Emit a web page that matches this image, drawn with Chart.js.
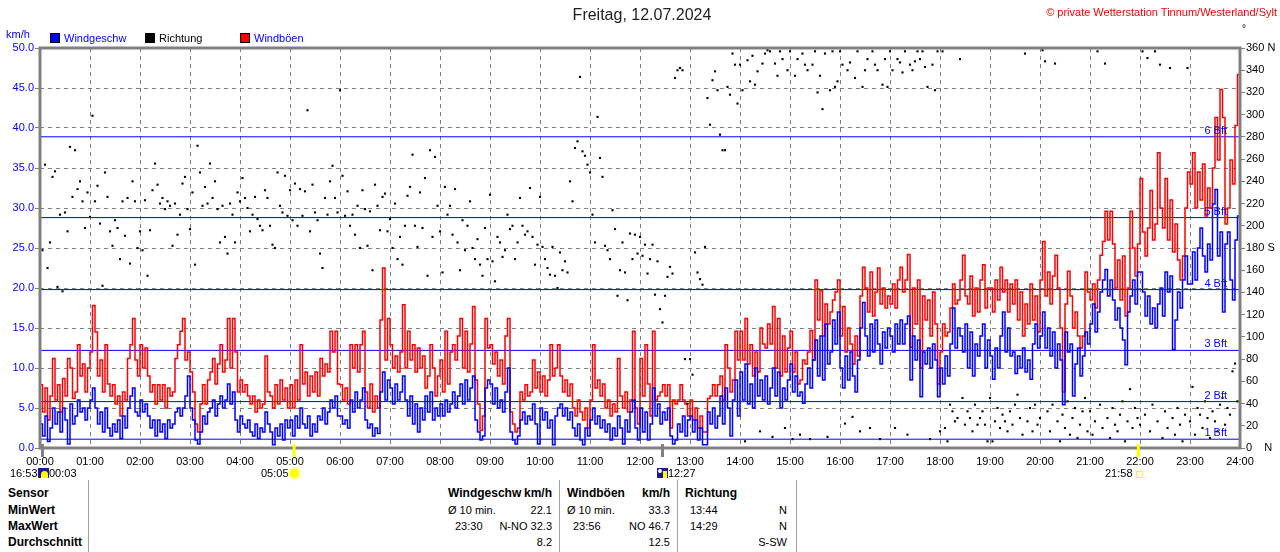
<!DOCTYPE html>
<html><head><meta charset="utf-8">
<script src="https://cdn.jsdelivr.net/npm/chart.js@4"></script>
<style>
body{margin:0;background:#fff;font-family:"Liberation Sans",Arial,sans-serif;}
#wrap{position:relative;width:1280px;height:552px;overflow:hidden;background:#fff;}
#c{position:absolute;left:0;top:0;}
.t{position:absolute;white-space:nowrap;font-size:11px;line-height:14px;color:#000;}
.vl{position:absolute;width:1px;background:#a0a0a0;top:480px;height:72px;}
</style></head><body>
<div id="wrap">
<canvas id="c" width="1280" height="470"></canvas>
</div>
<script>
const STEP = 3; // minutes between samples
// Windgeschwindigkeit km/h, 00:00 ... 23:57 (20 samples per hour) + 24:00
const speed = [
3.0,1.5,4.0,0.8,2.5,5.0,3.0,4.5,2.0,5.0,3.5,0.5,5.5,3.0,4.0,6.0,4.5,5.0,3.5,5.0,
6.0,7.5,5.0,3.0,4.5,2.0,5.0,2.5,1.5,3.0,2.0,3.5,1.2,4.0,2.5,5.0,6.5,7.5,4.5,4.0,
6.0,4.5,5.5,4.0,2.5,3.5,1.5,3.5,2.0,3.0,1.2,3.5,2.5,3.0,4.5,5.0,4.0,5.0,6.5,9.0,
5.0,3.5,1.0,0.5,2.0,4.0,3.0,4.5,5.0,6.0,4.0,5.5,6.5,5.0,6.0,8.0,5.5,7.0,3.5,2.0,
4.0,3.0,2.5,3.5,2.0,1.5,3.0,1.2,2.5,2.0,4.5,3.0,2.0,0.4,2.5,1.5,3.0,1.0,3.5,2.5,
3.5,1.5,4.0,2.5,5.0,3.0,2.5,4.0,1.5,3.0,2.0,4.0,3.5,5.0,3.0,4.5,6.0,5.0,6.5,4.0,
4.0,3.0,3.5,2.5,6.0,4.5,7.0,5.0,6.0,7.5,3.5,2.5,3.0,1.5,2.5,1.8,7.0,9.5,6.0,8.5,
7.5,5.5,8.0,6.0,7.0,9.0,6.0,4.0,6.5,3.0,5.5,2.0,5.0,3.5,6.5,4.5,7.0,3.5,5.0,4.0,
5.5,4.0,6.0,4.5,5.5,7.0,5.0,6.5,8.0,5.5,8.5,6.0,7.5,9.0,3.5,2.0,1.0,1.5,7.5,8.5,
8.0,5.5,7.5,5.0,6.0,4.5,7.0,10.0,2.0,1.0,0.5,1.5,3.5,4.5,3.0,4.0,3.5,5.5,3.0,0.5,
5.0,3.5,4.5,2.5,3.5,0.4,4.0,5.0,5.5,4.0,5.0,3.5,4.5,2.5,1.5,3.0,1.0,0.4,2.5,1.5,
3.5,5.0,3.0,4.0,2.5,3.5,2.0,3.0,1.0,2.5,1.5,4.0,2.5,0.5,3.5,2.0,4.5,6.0,2.5,1.0,
5.0,2.0,4.5,1.0,3.0,7.5,4.0,5.5,3.0,4.5,3.5,5.0,1.5,0.5,1.0,3.0,2.0,4.0,1.5,3.5,
4.0,2.0,3.5,1.0,2.5,0.4,0.4,4.5,3.0,5.0,2.5,4.0,6.5,3.0,7.5,5.0,1.5,6.0,8.5,4.0,
9.5,6.0,10.5,5.5,8.0,5.0,10.0,6.5,8.5,6.0,9.0,5.5,7.5,10.0,6.5,9.5,5.0,7.5,6.0,8.5,
10.5,7.0,9.0,6.5,7.0,5.6,8.0,10.0,7.5,11.0,13.5,9.0,14.0,8.5,15.5,10.5,12.0,16.0,13.0,17.0,
10.0,7.5,11.5,8.5,12.0,9.0,7.0,11.0,15.0,18.2,14.0,11.5,15.5,12.0,16.0,13.0,10.5,14.5,12.5,15.0,
14.0,12.0,15.5,13.0,16.0,13.0,15.5,16.5,8.5,14.0,11.0,13.5,6.4,12.0,10.5,12.5,10.0,13.0,11.0,6.4,
10.0,8.0,11.5,9.0,13.0,17.5,12.5,15.0,14.0,12.0,15.5,10.0,14.5,9.0,13.0,11.5,14.0,15.5,10.0,13.5,
11.5,8.6,12.5,10.0,14.0,17.0,12.0,15.0,11.5,12.0,9.3,11.5,10.0,12.5,9.5,11.0,8.6,13.0,15.5,12.5,
14.0,17.0,12.5,15.0,11.5,14.5,10.0,13.0,11.0,5.4,14.5,12.0,13.0,6.5,10.5,12.5,9.0,11.5,14.5,13.0,
15.5,18.0,14.5,17.0,19.5,21.0,22.3,19.0,21.0,18.5,16.0,17.5,15.0,13.5,10.4,17.0,19.0,21.0,18.0,22.0,
22.0,19.5,16.5,19.0,15.5,17.5,15.0,18.0,20.0,16.5,22.0,19.5,21.5,12.3,16.0,19.5,17.5,21.0,24.0,20.5,
20.5,24.5,21.0,25.0,27.5,24.0,22.0,25.5,23.5,30.5,32.3,24.0,27.0,17.0,25.5,27.0,21.0,18.5,26.0,29.0,
16.5];
// Windböen km/h
const gust = [
7.9,4.5,7.5,3.5,6.5,11.2,6.0,7.9,4.5,8.7,6.5,11.2,10.0,6.2,7.0,12.9,9.0,10.5,7.0,10.0,
12.0,17.8,14.5,9.0,11.0,7.0,12.9,8.0,6.5,7.9,5.5,6.5,4.0,7.0,6.0,11.2,12.9,16.2,11.0,9.0,
12.9,10.0,12.5,9.0,7.0,7.9,5.5,7.9,6.0,7.9,5.0,7.5,6.5,7.0,11.2,12.9,14.6,16.2,11.0,12.0,
9.5,7.0,3.0,2.0,5.5,7.9,5.5,8.5,9.5,11.2,8.0,10.5,12.9,9.5,11.0,16.2,10.0,16.2,12.0,7.0,
8.5,7.0,7.9,6.5,5.5,6.5,4.5,6.0,5.0,5.5,11.5,7.0,6.5,5.0,7.9,5.5,8.5,6.0,7.5,5.0,
7.9,5.0,8.5,6.0,12.9,8.0,9.5,6.5,9.0,7.0,9.5,6.5,11.2,9.0,10.5,9.5,14.6,12.0,14.6,8.0,
7.9,6.0,7.5,5.5,12.9,10.0,12.9,9.5,12.9,14.6,7.0,5.0,8.0,4.5,6.5,5.0,16.0,22.5,11.0,16.2,
12.9,10.0,11.5,9.5,12.0,17.9,10.0,14.6,11.0,12.9,9.5,12.5,10.0,11.5,7.5,9.0,12.9,10.0,6.5,9.0,
11.0,7.0,14.6,8.0,12.0,12.9,11.0,14.0,16.2,10.0,14.6,9.5,13.0,17.7,8.5,5.5,2.2,4.0,16.2,12.5,
12.9,10.5,12.0,9.0,11.0,8.0,14.0,16.2,4.5,3.0,2.0,2.5,7.0,6.0,7.9,6.5,7.0,11.0,7.5,9.5,
7.0,9.0,6.5,8.5,12.9,9.0,10.0,12.9,9.0,7.0,8.5,6.5,8.0,5.0,4.0,6.0,4.5,3.5,5.0,2.5,
6.0,12.9,7.5,8.5,6.5,8.0,5.0,6.0,4.0,5.5,4.5,11.2,6.5,5.0,7.0,4.5,6.0,14.6,5.0,3.0,
11.2,6.5,12.9,8.0,4.0,14.6,6.0,6.5,7.0,7.9,6.5,7.9,2.5,6.0,5.5,6.0,7.9,6.0,5.5,4.0,
6.0,3.5,5.0,2.5,4.0,2.0,2.0,6.2,6.5,7.9,6.5,7.9,9.0,6.0,12.9,10.0,7.0,8.5,14.6,11.0,
14.6,11.0,16.2,10.5,12.9,9.0,12.0,9.5,15.0,13.0,12.5,15.5,13.0,17.7,10.0,16.2,9.0,14.0,9.5,12.5,
14.6,9.5,12.0,8.0,8.5,11.0,10.5,12.0,14.7,11.0,21.0,16.0,19.7,14.0,18.0,15.5,17.0,18.5,19.5,21.0,
14.0,17.7,12.0,15.0,13.0,10.5,14.0,11.5,19.0,22.6,20.0,17.0,22.0,16.5,19.5,22.5,18.0,20.0,17.5,19.0,
18.0,20.5,17.5,21.0,22.6,19.5,21.0,24.2,12.6,20.0,15.5,21.0,10.0,19.0,16.0,18.5,14.0,19.5,15.5,8.0,
12.0,15.5,14.0,14.5,17.5,20.5,18.0,18.5,21.0,24.1,19.0,18.0,21.5,16.5,20.0,17.0,21.0,22.9,17.5,20.0,
20.0,17.0,21.0,18.5,22.6,19.5,21.0,17.0,20.5,18.0,21.0,16.0,19.5,14.0,18.0,15.5,20.5,16.0,19.0,14.5,
21.0,25.8,19.0,22.0,18.0,21.5,24.1,20.0,15.0,7.0,18.0,22.1,19.0,15.0,17.0,14.0,12.5,14.0,22.0,19.5,
18.5,20.5,17.5,21.0,24.1,25.8,29.6,26.0,29.6,25.5,20.0,23.5,18.5,24.0,16.5,20.0,29.6,25.0,21.5,25.5,
33.7,27.0,24.0,27.5,32.2,26.0,28.0,36.9,30.0,27.5,33.7,26.0,31.0,24.5,28.0,23.5,21.0,24.0,30.0,34.5,
33.0,36.9,30.0,34.5,31.0,35.5,29.0,32.5,30.0,35.0,41.3,36.0,44.8,41.3,28.0,30.0,36.0,33.0,40.3,46.7,
28.0];
// Richtung in Grad
const direction = [
207,178,255,162,185,244,249,145,210,141,212,195,271,226,268,233,240,222,198,230,
208,299,222,236,202,146,248,226,195,182,205,198,170,222,191,225,166,240,222,180,
195,178,223,155,196,232,256,237,220,225,215,222,218,182,220,192,210,238,244,215,
197,230,165,272,248,218,235,220,256,225,240,215,185,218,190,175,220,210,185,230,
222,243,225,216,195,210,226,206,200,196,232,225,200,183,180,248,218,212,245,209,
232,205,238,200,233,209,231,304,195,237,212,205,175,162,225,210,240,254,225,212,
322,245,209,231,200,210,192,218,180,232,215,182,213,160,237,218,196,226,229,195,
206,180,220,170,190,165,200,227,235,264,200,181,230,198,243,155,268,190,262,218,
195,158,235,210,218,192,233,185,160,205,178,200,222,180,170,188,165,155,198,170,
228,168,150,190,185,172,178,210,197,200,170,185,225,200,192,195,234,190,165,183,
226,181,170,162,156,181,155,144,176,160,168,158,240,222,270,276,334,267,263,255,
248,210,185,298,261,244,182,178,170,214,197,137,160,185,158,133,193,170,192,175,
190,173,183,157,170,183,138,168,125,113,137,154,163,157,333,340,342,340,80,40,
80,66,176,158,152,147,181,315,291,331,339,322,282,268,268,325,318,355,345,310,
345,322,6,349,330,353,327,339,15,346,355,358,357,10,346,335,357,350,18,340,
357,8,335,350,12,355,345,340,8,345,357,320,335,305,355,10,322,357,325,330,
357,345,22,340,347,28,333,357,15,325,340,350,18,357,345,340,8,327,350,325,
357,340,18,350,347,338,357,12,345,340,348,357,350,357,343,325,8,345,322,357,
15,357,18,6,39,33,24,27,350,45,21,33,27,15,39,21,27,33,21,6,
45,6,24,36,18,30,24,15,33,21,39,48,27,12,355,24,36,15,39,21,
27,358,348,33,15,39,346,24,6,30,18,42,12,27,36,9,21,33,45,15,
33,12,24,357,39,18,346,27,9,36,21,15,30,42,6,24,53,18,36,27,
21,357,30,351,15,39,357,24,345,9,33,18,342,27,12,36,21,6,30,342,
24,55,12,36,30,18,42,27,9,33,24,15,39,45,21,36,30,69,76,42];

const xTickLabels = ['00:00','01:00','02:00','03:00','04:00','05:00','06:00','07:00','08:00','09:00','10:00','11:00','12:00','13:00','14:00','15:00','16:00','17:00','18:00','19:00','20:00','21:00','22:00','23:00','24:00'];
const dirTickLabels = {0:'0    N', 180:'180 S', 360:'360 N'};
const bftLevels = [1.1, 5.8, 12.2, 19.8, 28.8, 38.9];
const bftLabels = ['1 Bft','2 Bft','3 Bft','4 Bft','5 Bft','6 Bft'];
// Sonnen-/Mond-Ereignisse (Minuten nach Mitternacht)
const sunEventTimes = [3, 305, 747, 1318];
const sunEventColors = ['#808080','#ffff00','#808080','#ffff00'];

// Tabelle
const tableRowLabels = ['Sensor','MinWert','MaxWert','Durchschnitt'];
const tableCells = [
  ['Windgeschw',448,0,'l',1],['km/h',552,0,'r',1],['Windböen',567,0,'l',1],['km/h',670,0,'r',1],['Richtung',685,0,'l',1],
  ['Ø 10 min.',448,1,'l',0],['22.1',552,1,'r',0],['Ø 10 min.',567,1,'l',0],['33.3',670,1,'r',0],['13:44',690,1,'l',0],['N',787,1,'r',0],
  ['23:30',455,2,'l',0],['N-NO 32.3',552,2,'r',0],['23:56',573,2,'l',0],['NO 46.7',670,2,'r',0],['14:29',690,2,'l',0],['N',787,2,'r',0],
  ['8.2',552,3,'r',0],['12.5',670,3,'r',0],['S-SW',787,3,'r',0]
];
const rowCenters = [493,510,526,542];
const tableDividers = [88,559,677,796];

const wrap = document.getElementById('wrap');
function addText(txt, x, yc, o){
  o = o||{};
  const d = document.createElement('div');
  d.className='t'; d.textContent=txt;
  const lh = o.lh||14;
  d.style.lineHeight = lh+'px';
  d.style.top = (yc - lh/2)+'px';
  if (o.align==='r') d.style.right = (1280-x)+'px'; else d.style.left = x+'px';
  if (o.bold) d.style.fontWeight='bold';
  if (o.size) d.style.fontSize=o.size+'px';
  if (o.color) d.style.color=o.color;
  wrap.appendChild(d);
  return d;
}
function addBox(x,y,w,h,css){
  const d=document.createElement('div');
  d.style.cssText='position:absolute;left:'+x+'px;top:'+y+'px;width:'+w+'px;height:'+h+'px;box-sizing:border-box;'+(css||'');
  wrap.appendChild(d); return d;
}
// Titel, Copyright, Legende
const ttl = addText('Freitag, 12.07.2024', 562, 15, {size:16, lh:20, color:'#222'});
ttl.style.width='160px'; ttl.style.textAlign='center';
addText('© private Wetterstation Tinnum/Westerland/Sylt', 1277, 12, {align:'r', color:'#ff0000'});
addText('km/h', 6, 34, {color:'#0000ff'});
addText('°', 1242, 29, {size:10});
addBox(50,33,10,10,'background:#0000ff;border:1px solid #000;');
addText('Windgeschw', 64, 38, {color:'#0000ff'});
addBox(145,33,10,10,'background:#000;');
addText('Richtung', 159, 38);
addBox(240,33,10,10,'background:#ff0000;border:1px solid #000;');
addText('Windböen', 254, 38, {color:'#0000ff'});
// Sonnenauf-/untergang
addText('16:53', 10, 473);
addBox(38,468,11,10,'background:#1a1a8c;');
addBox(41,471,7,7,'background:#ffff00;border-radius:50% 50% 0 0;');
addText('00:03', 49, 473);
addText('05:05', 261, 473);
addBox(290,469,9,9,'background:#ffff00;border-radius:50%;box-shadow:0 0 2px 2px rgba(255,255,120,0.8);');
addBox(657,468,11,10,'background:#1a1a8c;');
addBox(658,469,4,4,'background:#fff;border-radius:50%;');
addBox(663,471,4,7,'background:#ffff00;');
addText('12:27', 668, 473);
addText('21:58', 1105, 473);
addBox(1136,471,7,7,'border:1px solid #ffff00;');
// Tabelle
tableRowLabels.forEach((l,i)=>addText(l, 8, rowCenters[i], {bold:1, size:12}));
tableCells.forEach(c=>addText(c[0], c[1], rowCenters[c[2]], {align:c[3], bold:c[4], size:c[4]?12:11}));
tableDividers.forEach(x=>{ const d=document.createElement('div'); d.className='vl'; d.style.left=x+'px'; wrap.appendChild(d); });

const pts = arr => arr.map((v,i)=>({x:i*STEP, y:v}));
const FONT = {family:'"Liberation Sans", Arial, sans-serif', size:11};

const deco = {
  id:'deco',
  afterDatasetsDraw(chart){
    const {ctx, chartArea:a, scales:{x,y}} = chart;
    ctx.save();
    ctx.fillStyle='#0000ff';
    ctx.font='11px "Liberation Sans", Arial, sans-serif';
    ctx.textAlign='right'; ctx.textBaseline='alphabetic';
    bftLevels.forEach((v,i)=>ctx.fillText(bftLabels[i], a.right-13, y.getPixelForValue(v)-3));
    ctx.strokeStyle='#808080'; ctx.lineWidth=3;
    ctx.strokeRect(a.left, a.top, a.right-a.left, a.bottom-a.top);
    sunEventTimes.forEach((t,i)=>{
      const px = x.getPixelForValue(t);
      ctx.fillStyle=sunEventColors[i];
      ctx.fillRect(px-1.5, a.bottom-4, 3, 13);
    });
    ctx.restore();
  }
};

const datasets = [
  ...bftLevels.map(v=>({type:'line', data:[{x:0,y:v},{x:1440,y:v}], borderColor:'#0000ff', borderWidth:1, pointRadius:0, yAxisID:'y', order:5})),
  {type:'line', label:'Windböen', data:pts(gust), borderColor:'#ff0000', borderWidth:1.5, pointRadius:0, stepped:true, yAxisID:'y', order:3},
  {type:'line', label:'Windgeschw', data:pts(speed), borderColor:'#0000ff', borderWidth:1.5, pointRadius:0, stepped:true, yAxisID:'y', order:2},
  {type:'scatter', label:'Richtung', data:pts(direction), backgroundColor:'#000', borderColor:'#000', borderWidth:0, pointRadius:1.5, pointStyle:'rect', yAxisID:'y2', order:1}
];

new Chart(document.getElementById('c'), {
  type:'line',
  data:{datasets},
  plugins:[deco],
  options:{
    responsive:false, devicePixelRatio:1, animation:false, events:[],
    layout:{padding:{top:48,left:0,right:0,bottom:0}},
    plugins:{legend:{display:false}, tooltip:{enabled:false}, title:{display:false}},
    scales:{
      x:{type:'linear', min:0, max:1440,
        afterFit(s){s.height=22;},
        ticks:{stepSize:60, autoSkip:false, maxRotation:0, color:'#000', font:FONT, padding:7,
          callback:v=>xTickLabels[Math.round(v/60)]},
        grid:{color:'#808080', drawTicks:false, lineWidth:1},
        border:{display:false, dash:[4,4]}},
      y:{position:'left', min:0, max:50,
        afterFit(s){s.width=40;},
        ticks:{stepSize:5, color:'#0000ff', font:FONT, padding:1, callback:v=>v.toFixed(1)},
        grid:{color:'#808080', tickLength:5, tickColor:'#808080', tickBorderDash:[]},
        border:{display:false, dash:[4,4]}},
      y2:{position:'right', min:0, max:360,
        afterFit(s){s.width=40;},
        ticks:{stepSize:20, color:'#000', font:FONT, padding:1,
          callback:v=>(dirTickLabels[v]!==undefined?dirTickLabels[v]:String(v))},
        grid:{drawOnChartArea:false, tickLength:5, color:'#808080'},
        border:{display:false}}
    }
  }
});
</script>
</body></html>
